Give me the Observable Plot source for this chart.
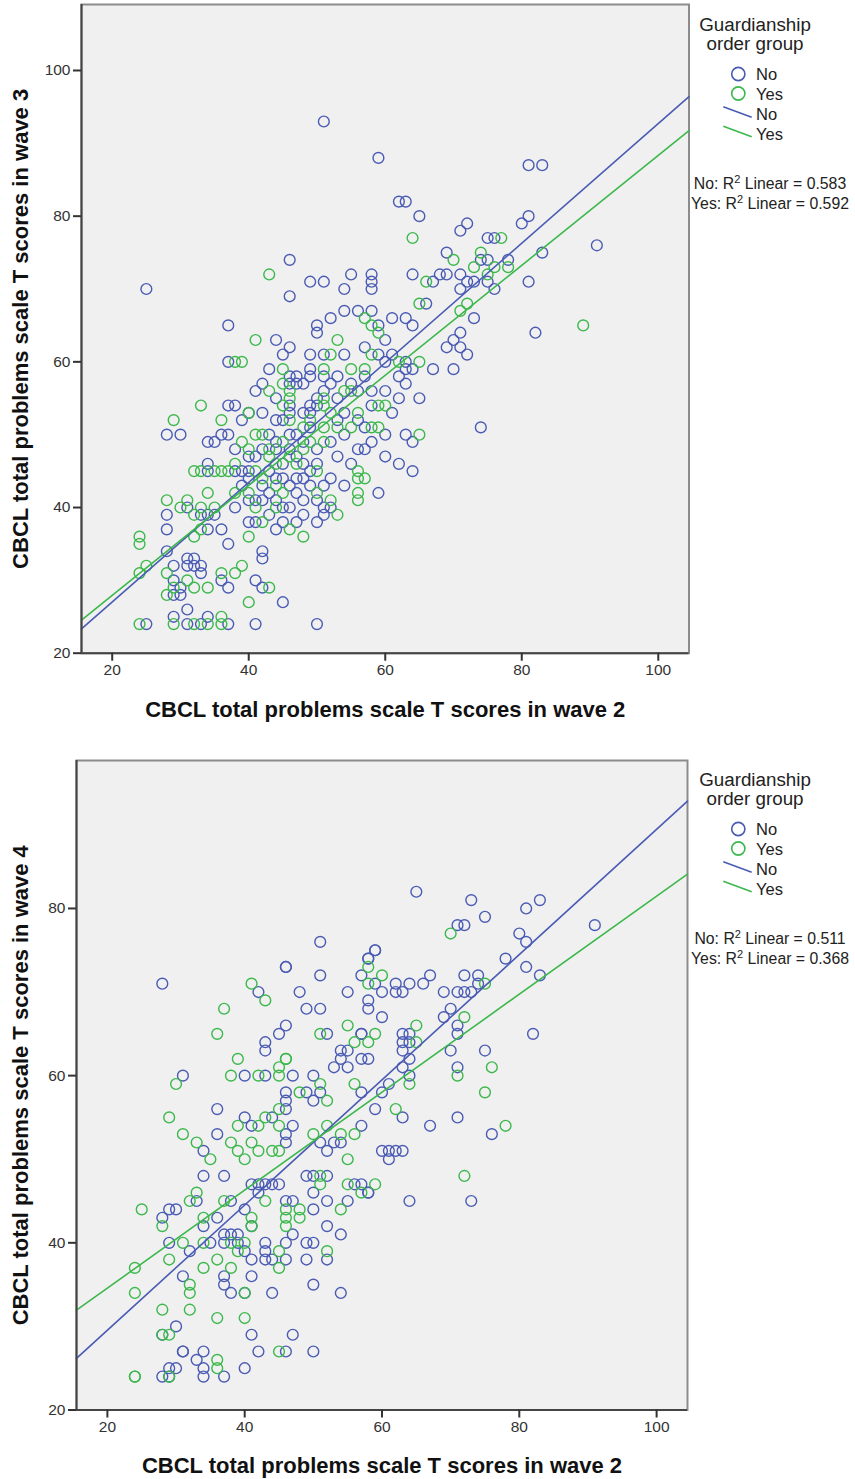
<!DOCTYPE html>
<html><head><meta charset="utf-8">
<script src="https://cdn.jsdelivr.net/npm/d3@7"></script>
<script src="https://cdn.jsdelivr.net/npm/@observablehq/plot@0.6"></script>
<style>
html,body{margin:0;padding:0;background:#fff;}
#root{position:relative;width:855px;height:1479px;overflow:hidden;font-family:"Liberation Sans",Arial,sans-serif;}
.panel{position:absolute;left:0;}
.legend{position:absolute;left:0;top:0;pointer-events:none;}
</style></head><body><div id="root"></div>
<script>
// ---------- data ----------
const groups = ["No", "Yes"];
const groupColors = ["#4a5bb4", "#3cb84c"];
const legendTitle = ["Guardianship", "order group"];
const xTicks = [20, 40, 60, 80, 100];
const yTicksW3 = [20, 40, 60, 80, 100];
const yTicksW4 = [20, 40, 60, 80];
const xLabel = "CBCL total problems scale T scores in wave 2";
const yLabelW3 = "CBCL total problems scale T scores in wave 3";
const yLabelW4 = "CBCL total problems scale T scores in wave 4";
const r2W3 = [0.583, 0.592];
const r2W4 = [0.511, 0.368];
const fitInterceptW3 = [10.61, 12.85];
const fitSlopeW3 = [0.821, 0.755];
const fitInterceptW4 = [14.56, 22.86];
const fitSlopeW4 = [0.749, 0.586];

const w3No = [[51,93],[59,88],[81,87],[83,87],[62,82],[63,82],[65,80],[81,80],[72,79],[80,79],[71,78],[75,77],[76,77],[91,76],[69,75],[83,75],[46,74],[74,74],[75,74],[78,74],[55,72],[58,72],[64,72],[68,72],[69,72],[71,72],[49,71],[51,71],[58,71],[67,71],[72,71],[73,71],[75,71],[81,71],[25,70],[54,70],[58,70],[71,70],[76,70],[46,69],[66,68],[54,67],[56,67],[58,67],[52,66],[61,66],[63,66],[73,66],[37,65],[50,65],[59,65],[64,65],[50,64],[71,64],[82,64],[44,63],[60,63],[70,63],[46,62],[57,62],[69,62],[71,62],[49,61],[51,61],[54,61],[59,61],[61,61],[72,61],[37,60],[60,60],[63,60],[63,59],[64,59],[67,59],[70,59],[49,59],[49,58],[51,58],[53,58],[57,58],[62,58],[46,58],[47,58],[63,57],[46,57],[47,57],[55,57],[41,56],[51,56],[56,56],[50,55],[62,55],[65,55],[37,54],[46,54],[49,54],[50,54],[58,54],[42,53],[46,53],[48,53],[49,53],[54,53],[61,53],[44,52],[45,52],[53,52],[74,51],[49,51],[28,50],[30,50],[37,50],[43,50],[46,50],[54,50],[60,50],[63,50],[34,49],[35,49],[44,49],[52,49],[64,49],[57,48],[48,46],[34,46],[40,47],[41,47],[34,45],[38,45],[39,45],[40,45],[64,45],[52,44],[51,43],[54,43],[59,42],[50,41],[48,41],[40,41],[41,41],[51,40],[52,40],[45,40],[46,40],[31,40],[51,39],[48,39],[28,39],[33,39],[34,39],[35,39],[47,38],[50,38],[34,37],[36,37],[28,37],[37,35],[28,34],[31,33],[32,33],[29,32],[31,32],[32,32],[33,32],[33,31],[29,30],[36,30],[41,30],[30,29],[37,29],[42,29],[30,28],[29,28],[45,27],[29,25],[34,25],[31,26],[25,24],[31,24],[33,24],[37,24],[41,24],[50,24],[42,34],[42,33],[42,48],[44,48],[46,48],[47,47],[45,46],[43,45],[44,44],[45,44],[42,43],[43,42],[46,43],[47,44],[48,44],[49,45],[50,46],[42,41],[44,41],[43,39],[40,38],[41,38],[44,37],[45,38],[38,40],[39,43],[40,44],[47,50],[48,49],[50,48],[53,47],[55,46],[56,48],[58,49],[60,47],[62,46],[56,52],[57,51],[53,55],[52,57],[48,57],[44,55],[43,59],[60,56],[58,56],[40,53],[42,57],[45,61],[38,54],[39,52],[36,50],[38,48],[49,43],[47,42]];
const w3Yes = [[64,77],[77,77],[74,75],[70,74],[73,73],[76,73],[78,73],[43,72],[75,72],[66,71],[65,68],[72,68],[71,67],[89,65],[57,66],[58,65],[59,64],[41,63],[53,63],[52,61],[58,61],[38,60],[39,60],[62,60],[65,60],[45,59],[51,59],[55,59],[57,59],[45,57],[46,56],[43,56],[54,56],[55,56],[46,55],[51,55],[33,54],[45,54],[51,54],[59,54],[60,54],[40,53],[52,53],[56,53],[29,52],[36,52],[46,52],[49,52],[48,51],[51,51],[53,51],[55,51],[58,51],[59,51],[41,50],[42,50],[65,50],[39,49],[45,49],[49,49],[51,49],[48,48],[38,46],[43,47],[32,45],[33,45],[35,45],[36,45],[37,45],[56,45],[56,44],[57,44],[34,42],[38,42],[50,42],[56,42],[56,41],[28,41],[31,41],[52,41],[30,40],[33,40],[35,40],[32,39],[53,39],[46,37],[33,37],[48,36],[32,36],[24,36],[24,35],[25,32],[39,32],[24,31],[28,31],[36,31],[38,31],[31,30],[29,29],[32,29],[34,29],[43,29],[28,28],[40,27],[36,25],[24,24],[29,24],[32,24],[34,24],[36,24],[41,45],[42,44],[44,43],[40,42],[41,40],[44,40],[45,42],[42,38],[40,36],[43,48],[47,46],[44,46],[40,48],[46,47],[50,45]];

const w4No = [[51,76],[46,73],[46,73],[28,71],[51,72],[42,70],[48,70],[49,68],[51,68],[55,70],[58,74],[57,72],[59,75],[58,69],[58,68],[46,66],[45,65],[52,65],[57,65],[43,64],[43,63],[54,63],[55,63],[54,62],[53,61],[55,61],[57,62],[58,62],[31,60],[40,60],[43,60],[47,60],[50,60],[46,58],[49,58],[51,58],[46,57],[46,56],[50,57],[57,58],[36,56],[44,55],[40,55],[41,54],[47,54],[57,54],[36,53],[46,53],[46,52],[34,51],[51,52],[52,51],[53,52],[54,52],[34,48],[37,48],[49,48],[50,48],[52,48],[50,46],[57,47],[58,46],[41,47],[42,47],[43,47],[44,47],[45,47],[42,46],[28,43],[29,44],[30,44],[33,45],[38,45],[34,42],[36,43],[40,44],[41,42],[46,45],[47,45],[47,41],[50,44],[52,45],[52,42],[29,40],[32,39],[35,40],[37,41],[38,41],[39,41],[37,40],[39,40],[40,39],[41,38],[43,40],[43,39],[43,38],[44,38],[46,40],[46,38],[49,40],[50,40],[49,38],[52,38],[31,36],[37,36],[37,35],[38,34],[41,36],[40,34],[44,34],[50,35],[54,34],[30,30],[28,29],[41,29],[47,29],[31,27],[31,27],[34,27],[42,27],[46,27],[50,27],[33,26],[28,24],[29,25],[29,24],[30,25],[34,25],[34,24],[37,24],[40,25],[65,82],[73,81],[83,81],[81,80],[75,79],[71,78],[72,78],[91,78],[80,77],[81,76],[59,75],[58,74],[78,74],[81,73],[83,72],[67,72],[72,72],[74,72],[59,71],[62,71],[64,71],[66,71],[74,71],[60,70],[62,70],[63,70],[69,70],[71,70],[72,70],[73,70],[70,68],[69,67],[60,67],[57,65],[71,66],[71,65],[63,65],[64,65],[63,64],[64,64],[63,63],[82,65],[70,63],[75,63],[64,62],[63,61],[71,61],[64,60],[61,59],[60,58],[59,56],[63,55],[71,55],[67,54],[76,53],[60,51],[61,51],[62,51],[63,51],[61,50],[73,45],[64,45],[55,45],[54,41],[56,47],[58,46]];
const w4Yes = [[41,71],[43,69],[37,68],[58,73],[58,71],[36,65],[55,66],[59,65],[51,65],[56,64],[58,64],[39,62],[46,62],[46,62],[45,61],[30,59],[38,60],[42,60],[45,60],[51,59],[48,58],[52,57],[56,59],[29,55],[43,55],[45,56],[39,54],[42,54],[45,54],[31,53],[33,52],[38,52],[41,52],[50,53],[52,54],[54,53],[56,53],[35,50],[39,51],[40,50],[42,51],[44,51],[45,51],[51,48],[51,47],[55,50],[55,47],[57,46],[25,44],[28,42],[32,45],[33,46],[37,45],[34,43],[41,43],[41,42],[43,45],[46,44],[46,43],[46,42],[48,44],[48,43],[54,44],[31,40],[34,40],[38,40],[39,39],[40,40],[45,39],[45,37],[52,39],[29,38],[34,37],[36,38],[38,37],[32,35],[32,34],[24,37],[24,34],[40,34],[28,32],[32,32],[36,31],[40,31],[28,29],[29,29],[45,27],[36,26],[24,24],[24,24],[29,24],[36,25],[70,77],[60,72],[75,71],[72,67],[65,66],[65,64],[71,60],[76,61],[64,59],[75,58],[62,56],[78,54],[72,48],[59,47]];

// ---------- drawing ----------
const FONT = "'Liberation Sans', Arial, sans-serif";
const xDomain = [15.5, 104.5];
const root = document.getElementById("root");

function panel(o) {
  const pts = [
    ...o.no.map(([x, y]) => ({x, y, g: groups[0]})),
    ...o.yes.map(([x, y]) => ({x, y, g: groups[1]}))
  ];
  const fit = groups.flatMap((g, i) => xDomain.map(x => ({g, x, y: o.fitI[i] + o.fitS[i] * x})));
  const chart = Plot.plot({
    width: 855, height: o.height,
    marginTop: o.mt, marginBottom: o.mb, marginLeft: o.ml, marginRight: o.mr,
    style: {fontFamily: FONT, fontSize: "15px", background: "transparent", color: "#333"},
    x: {domain: xDomain},
    y: {domain: o.yDomain},
    color: {domain: groups, range: groupColors},
    marks: [
      Plot.frame({fill: "#f0f0f0", stroke: "#8c8c8c", strokeWidth: 2}),
      Plot.dot(pts, {x: "x", y: "y", stroke: "g", r: 5.4, strokeWidth: 1.4}),
      Plot.line(fit, {x: "x", y: "y", stroke: "g", z: "g", strokeWidth: 1.6}),
      Plot.ruleX([xDomain[0]], {stroke: "#444", strokeWidth: 2}),
      Plot.ruleY([o.yDomain[0]], {stroke: "#444", strokeWidth: 2}),
      Plot.axisX({ticks: xTicks, tickSize: 8, tickPadding: 3, label: null, stroke: "#333", strokeWidth: 2, fill: "#333", fontSize: 15.5}),
      Plot.axisY({ticks: o.yTicks, tickSize: 8, tickPadding: 3, label: null, stroke: "#333", strokeWidth: 2, fill: "#333", fontSize: 15.5}),
      Plot.text([xLabel], {frameAnchor: "bottom", dy: o.xLabelDy, text: d => d, textAnchor: "middle", lineAnchor: "middle", fontSize: 22, fontWeight: "bold", fill: "#111"}),
      Plot.text([o.yLabel], {frameAnchor: "left", dx: o.yLabelDx, rotate: -90, text: d => d, textAnchor: "middle", lineAnchor: "middle", fontSize: 22, fontWeight: "bold", fill: "#111"})
    ]
  });
  const div = document.createElement("div");
  div.className = "panel";
  div.style.top = o.top + "px";
  div.appendChild(chart);
  root.appendChild(div);
}

panel({no: w3No, yes: w3Yes, top: 0, height: 745, mt: 4, mb: 92.3, ml: 81, mr: 166.5,
  yDomain: [20, 109.06], yTicks: yTicksW3, yLabel: yLabelW3, fitI: fitInterceptW3, fitS: fitSlopeW3,
  xLabelDy: 57, yLabelDx: -61});
panel({no: w4No, yes: w4Yes, top: 745, height: 734, mt: 15, mb: 69.5, ml: 76, mr: 168,
  yDomain: [20, 97.7], yTicks: yTicksW4, yLabel: yLabelW4, fitI: fitInterceptW4, fitS: fitSlopeW4,
  xLabelDy: 55.5, yLabelDx: -56});

// legends
const legendOffsets = [0, 755];
const r2Sets = [r2W3, r2W4];
const legend = d3.create("svg").attr("class", "legend").attr("width", 855).attr("height", 1479)
  .attr("font-family", FONT).attr("fill", "#222");
legendOffsets.forEach((off, k) => {
  const g = legend.append("g").attr("transform", `translate(0,${off})`);
  legendTitle.forEach((t, j) => g.append("text").attr("x", 755).attr("y", 31 + 19 * j)
    .attr("text-anchor", "middle").attr("font-size", 18.8).text(t));
  groups.forEach((grp, i) => {
    g.append("circle").attr("cx", 738.3).attr("cy", 74 + 19.5 * i).attr("r", 6.6)
      .attr("fill", "none").attr("stroke", groupColors[i]).attr("stroke-width", 1.6);
    g.append("text").attr("x", 756).attr("y", 80 + 19.5 * i).attr("font-size", 16.5).text(grp);
    g.append("line").attr("x1", 723.3).attr("y1", 106.7 + 19.5 * i).attr("x2", 751.7).attr("y2", 117.3 + 19.5 * i)
      .attr("stroke", groupColors[i]).attr("stroke-width", 1.6);
    g.append("text").attr("x", 756).attr("y", 120 + 19.5 * i).attr("font-size", 16.5).text(grp);
    const t2 = g.append("text").attr("x", 770).attr("y", 188.5 + 20.5 * i).attr("text-anchor", "middle").attr("font-size", 15.8);
    t2.append("tspan").text(`${grp}: R`);
    t2.append("tspan").attr("dy", -6).attr("font-size", 11).text("2");
    t2.append("tspan").attr("dy", 6).text(` Linear = ${r2Sets[k][i].toFixed(3)}`);
  });
});
root.appendChild(legend.node());
</script>
</body></html>
